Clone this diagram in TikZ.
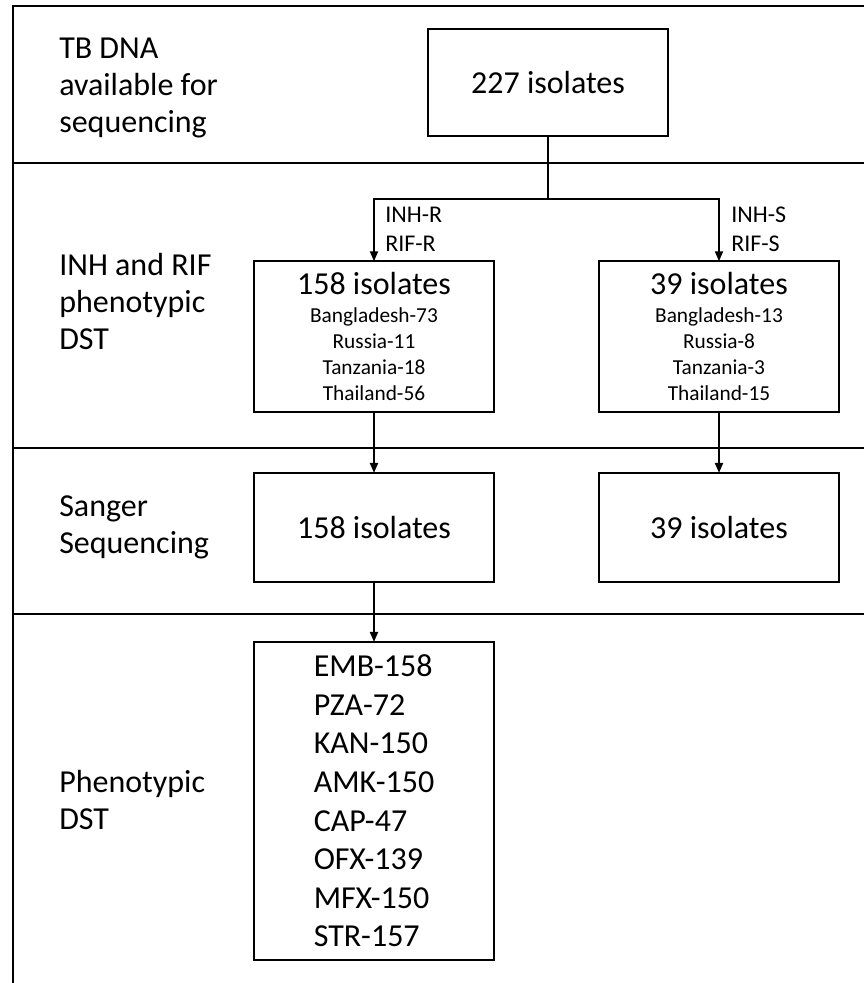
\documentclass[tikz,border=0pt]{standalone}
\usepackage{fontspec}
\setmainfont{Carlito}
\usetikzlibrary{arrows.meta,positioning}

\newcommand{\bigtxt}{\fontsize{24}{27.75}\selectfont}
\newcommand{\smalltxt}{\fontsize{16}{19.4}\selectfont}

\begin{document}
\begin{tikzpicture}[
    x=0.75pt, y=-0.75pt,
    node distance=45.5pt,
    stepbox/.style={
        rectangle,
        draw,
        line width=1.5pt,
        minimum width=180pt,
        inner sep=0pt,
        outer sep=0pt,
        align=center,
        font=\bigtxt
    },
    stagelabel/.style={anchor=base west, align=left, inner sep=0pt, font=\bigtxt},
    branchlabel/.style={anchor=base west, align=left, inner sep=0pt, font=\fontsize{18}{21.75}\selectfont},
    arrow/.style={-{Triangle[length=7.5pt, width=6pt]}, line width=1.5pt},
    frame/.style={line width=1.5pt}
]
    \fill[white] (0,0) rectangle (864,983);
    \useasboundingbox (0,0) rectangle (864,983);
    \clip (0,0) rectangle (864,983);

    % bands
    \draw[frame] (880,6) -- (13,6) -- (13,1000);
    \foreach \y in {163,448,614}
        \draw[frame] (13,\y) -- (880,\y);

    % stage labels (placed at the baseline of their last line)
    \node[stagelabel] (stage1) at (59,132) {TB DNA\\available for\\sequencing};
    \node[stagelabel] (stage2) at (59,349) {INH and RIF\\phenotypic\\DST};
    \node[stagelabel] (stage3) at (59,553) {Sanger\\Sequencing};
    \node[stagelabel] (stage4) at (59,829) {Phenotypic\\DST};

    % boxes
    \node[stepbox, minimum height=80.25pt] (total) at (548,82.5) {227 isolates};
    \node[stepbox, minimum height=113.25pt, font=\smalltxt] (resist) at (374,336.75)
        {{\bigtxt 158 isolates}\\[1.6pt]Bangladesh-73\\Russia-11\\Tanzania-18\\Thailand-56};
    \node[stepbox, minimum height=113.25pt, font=\smalltxt] (suscept) at (719,336.75)
        {{\bigtxt 39 isolates}\\[1.6pt]Bangladesh-13\\Russia-8\\Tanzania-3\\Thailand-15};
    \node[stepbox, minimum height=81.75pt, below=of resist] (sangerR) {158 isolates};
    \node[stepbox, minimum height=81.75pt, below=of suscept] (sangerS) {39 isolates};
    \node[stepbox, minimum height=238.5pt, below=45pt of sangerR, align=left,
        font=\fontsize{24}{28.9}\selectfont] (drugs)
        {EMB-158\\PZA-72\\KAN-150\\AMK-150\\CAP-47\\OFX-139\\MFX-150\\STR-157};

    \node[branchlabel] (resistlbl) at (385,251) {INH-R\\RIF-R};
    \node[branchlabel] (susceptlbl) at (731,251) {INH-S\\RIF-S};

    % connectors
    \coordinate (split) at (548,199);
    \draw[arrow] (total.south) -- (split) -| (resist.north);
    \draw[arrow] (total.south) -- (split) -| (suscept.north);
    \draw[arrow] (resist) -- (sangerR);
    \draw[arrow] (suscept) -- (sangerS);
    \draw[arrow] (sangerR) -- (drugs);
\end{tikzpicture}
\end{document}
